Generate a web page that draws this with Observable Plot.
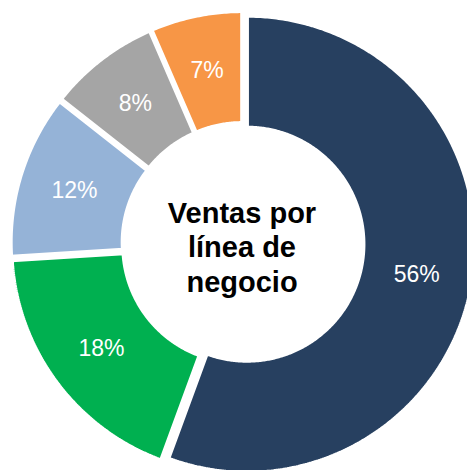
<!DOCTYPE html>
<html>
<head>
<meta charset="utf-8">
<script src="https://cdn.jsdelivr.net/npm/d3@7"></script>
<script src="https://cdn.jsdelivr.net/npm/@observablehq/plot@0.6"></script>
<style>
  html, body { margin: 0; padding: 0; background: #fff; }
  #chart svg { display: block; }
</style>
</head>
<body>
<div id="chart"></div>
<script>
// ---- data (clockwise from 12 o'clock) ----
const categories = ["Línea 1", "Línea 2", "Línea 3", "Línea 4", "Línea 5"];
const shares = [55.6, 18.4, 11.6, 7.9, 6.5];
const labels = ["56%", "18%", "12%", "8%", "7%"];
const colors = ["#274060", "#00B050", "#95B3D7", "#A5A5A5", "#F79646"];
const centerLines = ["Ventas por", "línea de", "negocio"];

// ---- geometry (unit outer radius) ----
const PX = 228.5;           // pixels per unit radius
const CX = 242.5, CY = 243; // centre in pixels
const R_IN = 116.5 / PX;
const EXPLODE = 4 / PX;
const W = 467, H = 470;

const total = d3.sum(shares);
let acc = 0;
const slices = shares.map((v, i) => {
  const a0 = acc / total * 2 * Math.PI;
  acc += v;
  const a1 = acc / total * 2 * Math.PI;
  const mid = (a0 + a1) / 2;
  return {i, a0, a1, mid, ox: EXPLODE * Math.sin(mid), oy: EXPLODE * Math.cos(mid)};
});

const ring = [];
for (const s of slices) {
  const n = Math.max(8, Math.ceil((s.a1 - s.a0) / 0.01));
  for (let k = 0; k <= n; k++) {
    const a = s.a0 + (s.a1 - s.a0) * k / n;
    ring.push({cat: categories[s.i], x: s.ox + Math.sin(a), y: s.oy + Math.cos(a)});
  }
  for (let k = n; k >= 0; k--) {
    const a = s.a0 + (s.a1 - s.a0) * k / n;
    ring.push({cat: categories[s.i], x: s.ox + R_IN * Math.sin(a), y: s.oy + R_IN * Math.cos(a)});
  }
}

const rMid = (1 + R_IN) / 2;
const labelData = slices.map(s => ({
  text: labels[s.i],
  x: s.ox + rMid * Math.sin(s.mid),
  y: s.oy + rMid * Math.cos(s.mid)
}));

const chart = Plot.plot({
  width: W,
  height: H,
  margin: 0,
  x: {domain: [-CX / PX, (W - CX) / PX], axis: null},
  y: {domain: [(CY - H) / PX, CY / PX], axis: null},
  color: {domain: categories, range: colors},
  style: {background: "#fff", overflow: "hidden"},
  marks: [
    Plot.line(ring, {x: "x", y: "y", z: "cat", fill: "cat", stroke: "white", strokeWidth: 4, strokeLinejoin: "miter", curve: "linear-closed"}),
    Plot.text(labelData, {x: "x", y: "y", text: "text", fill: "white", fontSize: 23, fontFamily: "Arial, 'Liberation Sans', sans-serif", lineAnchor: "middle"}),
    Plot.text([centerLines.join("\n")], {x: () => -1 / PX, y: () => -2.8 / PX, text: d => d, fill: "black", fontSize: 29, fontWeight: "bold", lineHeight: 1.19, fontFamily: "Arial, 'Liberation Sans', sans-serif", lineAnchor: "middle"})
  ]
});
document.getElementById("chart").appendChild(chart);
</script>
</body>
</html>
